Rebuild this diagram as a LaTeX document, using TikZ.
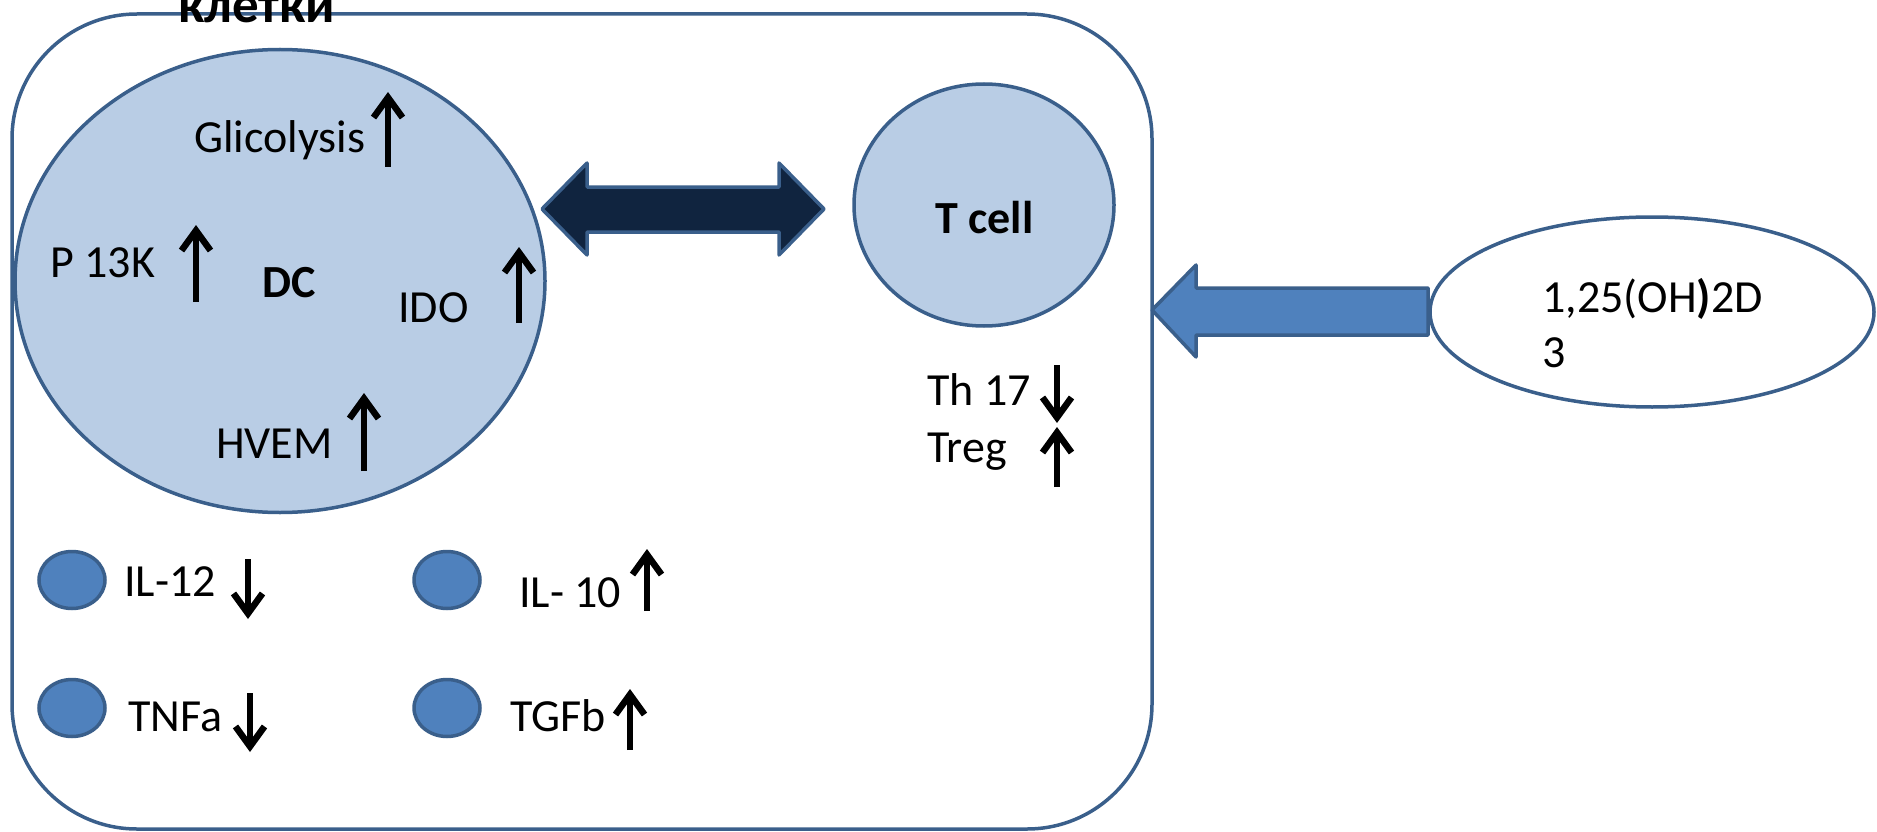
\documentclass[tikz,border=0pt]{standalone}
\usepackage{fontspec}
\setmainfont{Carlito}
\usetikzlibrary{arrows.meta,shapes.geometric}
\definecolor{bord}{HTML}{3A5F8B}
\definecolor{lightfill}{HTML}{B9CDE5}
\definecolor{navy}{HTML}{10243F}
\definecolor{midblue}{HTML}{4F81BD}
\begin{document}
\begin{tikzpicture}[x=1pt,y=-1pt,
  lbl/.style={anchor=base west,inner sep=0pt,font=\fontsize{46}{55}\selectfont},
  bl/.style={anchor=base west,inner sep=0pt,font=\fontsize{46}{55}\selectfont\bfseries},
  updown/.style={line width=6.5pt,-{Straight Barb[length=20pt,width=29pt]}},
  cellbord/.style={draw=bord,line width=3.5pt},
  cell/.style={ellipse,cellbord,inner sep=0pt},
  dot/.style={ellipse,cellbord,fill=midblue,minimum width=66pt,minimum height=57pt,inner sep=0pt},
]
\useasboundingbox (0,0) rectangle (1877,832);
\clip (0,0) rectangle (1877,832);
% outer cell
\draw[cellbord,rounded corners=125pt] (12,14) rectangle (1152,829);
\node[bl,font=\fontsize{53}{63}\selectfont\bfseries] (title) at (178,23) {клетки};
% DC
\node[cell,fill=lightfill,minimum width=530pt,minimum height=463pt] (dc) at (280,281) {};
\node[bl] (dclbl) at (262,297) {DC};
\node[lbl] (glic) at (194,153) {Glicolysis};
\node[lbl] (p13k) at (50,277) {P 13K};
\node[lbl] (ido) at (398,322) {IDO};
\node[lbl] (hvem) at (216,458) {HVEM};
\draw[updown] (388,167) -- (388,92);
\draw[updown] (196,302) -- (196,225);
\draw[updown] (519,323) -- (519,247);
\draw[updown] (364,471) -- (364,393);
% T cell
\node[cell,fill=lightfill,minimum width=260pt,minimum height=242pt] (tcell) at (984,205) {};
\node[bl] (tlbl) at (935,233) {T cell};
\node[lbl] (th17) at (927,405) {Th 17};
\node[lbl] (treg) at (927,462) {Treg};
\draw[updown] (1057,365) -- (1057,423);
\draw[updown] (1057,487) -- (1057,427);
% double arrow DC <-> T cell
\draw[cellbord,fill=navy,line join=round]
  (542,209) -- (587,163) -- (587,187) -- (779,187) -- (779,163) -- (824,209)
  -- (779,255) -- (779,232) -- (587,232) -- (587,255) -- cycle;
% vitamin D
\node[cell,fill=white,minimum width=444pt,minimum height=190pt] (vitd) at (1652,312) {};
\node[lbl] (vitlbl) at (1542,312) {1,25(OH\textbf{)}2D};
\node[lbl] (vitlbl3) at (1542,367) {3};
\draw[cellbord,fill=midblue,line join=round]
  (1152,310) -- (1196,265) -- (1196,288) -- (1428,288) -- (1428,335)
  -- (1196,335) -- (1196,357) -- cycle;
% cytokines
\node[dot] (d1) at (72,580) {};
\node[dot] (d2) at (447,580) {};
\node[dot] (d3) at (72,708) {};
\node[dot] (d4) at (447,708) {};
\node[lbl] (il12) at (124,596) {IL-12};
\node[lbl] (il10) at (519,607) {IL- 10};
\node[lbl] (tnfa) at (128,731) {TNFa};
\node[lbl] (tgfb) at (510,731) {TGFb};
\draw[updown] (248,559) -- (248,619);
\draw[updown] (647,611) -- (647,549);
\draw[updown] (250,693) -- (250,752);
\draw[updown] (630,750) -- (630,689);
\end{tikzpicture}
\end{document}
